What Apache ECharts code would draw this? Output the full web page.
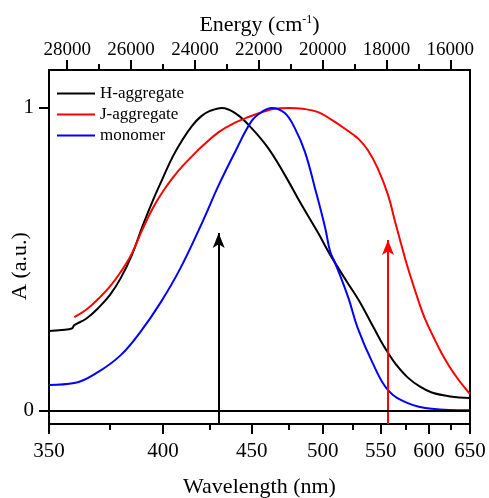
<!DOCTYPE html>
<html>
<head>
<meta charset="utf-8">
<script src="https://cdn.jsdelivr.net/npm/echarts@6/dist/echarts.min.js"></script>
<style>
  html, body { margin: 0; padding: 0; background: #ffffff; }
  #chart { width: 489px; height: 498px; }
</style>
</head>
<body>
<div id="chart"></div>
<script>
// Absorption spectra (normalised), wavelength in nm
const H_WAVELENGTH = [350, 355, 359, 360, 365, 370, 375, 380, 385, 390, 395, 400, 405, 410, 415, 420, 425, 432, 440, 448, 460, 472, 484, 496, 506, 520, 530, 540, 550, 557, 565, 577, 590, 603, 625, 650];
const H_ABS        = [0.264, 0.267, 0.272, 0.283, 0.305, 0.34, 0.382, 0.44, 0.515, 0.61, 0.695, 0.77, 0.84, 0.895, 0.94, 0.972, 0.99, 1.0, 0.982, 0.944, 0.872, 0.779, 0.68, 0.591, 0.515, 0.425, 0.365, 0.298, 0.232, 0.192, 0.153, 0.11, 0.08, 0.061, 0.048, 0.043];

const J_WAVELENGTH = [360, 365, 370, 375, 380, 385, 390, 395, 400, 405, 410, 415, 420, 430, 440, 448, 458, 465, 475, 485, 496, 506, 516, 525, 530, 538, 547, 557, 564, 574, 581, 588, 595, 605, 615, 625, 634, 642, 650];
const J_ABS        = [0.31, 0.335, 0.37, 0.41, 0.46, 0.52, 0.6, 0.67, 0.725, 0.77, 0.808, 0.84, 0.87, 0.92, 0.952, 0.97, 0.988, 0.997, 1.0, 0.997, 0.987, 0.964, 0.937, 0.912, 0.897, 0.861, 0.802, 0.713, 0.624, 0.505, 0.432, 0.366, 0.307, 0.244, 0.188, 0.142, 0.107, 0.08, 0.056];

const M_WAVELENGTH = [350, 360, 370, 380, 389, 399, 409, 420.5, 430, 440, 450, 456.6, 463, 472, 479, 486.5, 494, 502, 506, 510, 521, 529, 542, 557, 577, 603, 650];
const M_ABS        = [0.086, 0.092, 0.129, 0.185, 0.261, 0.36, 0.472, 0.62, 0.745, 0.858, 0.957, 0.987, 1.0, 0.983, 0.934, 0.855, 0.736, 0.604, 0.525, 0.488, 0.373, 0.274, 0.162, 0.069, 0.026, 0.007, 0.002];

// Excitation wavelengths marked with arrows, and arrow tip heights
const ARROW_WAVELENGTH = [430, 557];
const ARROW_TIP = [0.587, 0.564];

// Axis ticks
const WAVELENGTH_TICKS = [350, 400, 450, 500, 550, 600, 650];
const WAVELENGTH_MINOR = [375, 425, 475, 525, 575, 625];
const ENERGY_TICKS = [28000, 26000, 24000, 22000, 20000, 18000, 16000];
const ENERGY_MINOR = [27000, 25000, 23000, 21000, 19000, 17000];
const A_TICKS = [0, 1];

const FONT = 'Liberation Serif';
const toEnergy = nm => 1e7 / nm;           // nm -> cm^-1
const pairs = (wl, a) => wl.map((w, i) => [toEnergy(w), a[i]]);

const E_MIN = toEnergy(650), E_MAX = toEnergy(350);
const A_MIN = -0.043, A_MAX = 1.125;

function energyAxis(extra) {
  return Object.assign({
    type: 'value', min: E_MIN, max: E_MAX, inverse: true,
    splitLine: { show: false }
  }, extra);
}

const chart = echarts.init(document.getElementById('chart'), null, { renderer: 'canvas' });

const arrowLine = (i) => [
  { coord: [toEnergy(ARROW_WAVELENGTH[i]), A_MIN] },
  { coord: [toEnergy(ARROW_WAVELENGTH[i]), ARROW_TIP[i]] }
];

const arrowMarkLine = (color, data) => ({
  silent: true, animation: false, label: { show: false },
  symbol: ['none', 'arrow'], symbolSize: [9, 15],
  lineStyle: { color: color, width: 2, type: 'solid' },
  itemStyle: { color: color },
  data: data
});

chart.setOption({
  animation: false,
  backgroundColor: '#ffffff',
  grid: { left: 49, right: 19, top: 70, bottom: 74, outerBoundsMode: 'none', containLabel: false },
  legend: {
    orient: 'vertical', left: 57, top: 85, padding: 0,
    icon: 'path://M0 0H38V2H0Z',
    itemWidth: 38, itemHeight: 14, itemGap: 4,
    textStyle: { fontFamily: FONT, fontSize: 17, color: '#000' },
    data: ['H-aggregate', 'J-aggregate', 'monomer']
  },
  xAxis: [
    energyAxis({
      position: 'bottom',
      name: 'Wavelength (nm)', nameLocation: 'middle', nameGap: 52,
      nameTextStyle: { fontFamily: FONT, fontSize: 22, color: '#000' },
      axisLine: { show: true, onZero: false, lineStyle: { color: '#000', width: 2 } },
      axisTick: { show: true, inside: false, length: 10, lineStyle: { color: '#000', width: 2 },
                  customValues: WAVELENGTH_TICKS.map(toEnergy) },
      axisLabel: { show: true, margin: 17, fontFamily: FONT, fontSize: 21, color: '#000',
                   customValues: WAVELENGTH_TICKS.map(toEnergy),
                   formatter: v => String(Math.round(1e7 / v)) }
    }),
    energyAxis({
      position: 'bottom',
      axisLine: { show: false, onZero: false },
      axisTick: { show: true, inside: false, length: 6, lineStyle: { color: '#000', width: 2 },
                  customValues: WAVELENGTH_MINOR.map(toEnergy) },
      axisLabel: { show: false }
    }),
    energyAxis({
      position: 'top',
      name: 'Energy (cm{sup|-1})', nameLocation: 'middle', nameGap: 33,
      nameTextStyle: { fontFamily: FONT, fontSize: 22, color: '#000',
        rich: { sup: { fontFamily: FONT, fontSize: 12, color: '#000', verticalAlign: 'top', padding: [0, 0, 8, 0] } } },
      axisLine: { show: true, onZero: false, lineStyle: { color: '#000', width: 2 } },
      axisTick: { show: true, inside: false, length: 10, lineStyle: { color: '#000', width: 2 },
                  customValues: ENERGY_TICKS },
      axisLabel: { show: true, margin: 10, fontFamily: FONT, fontSize: 19, color: '#000',
                   customValues: ENERGY_TICKS, formatter: v => String(Math.round(v)) }
    }),
    energyAxis({
      position: 'top',
      axisLine: { show: false, onZero: false },
      axisTick: { show: true, inside: false, length: 6, lineStyle: { color: '#000', width: 2 },
                  customValues: ENERGY_MINOR },
      axisLabel: { show: false }
    })
  ],
  yAxis: [
    {
      type: 'value', position: 'left', min: A_MIN, max: A_MAX,
      splitLine: { show: false },
      axisLine: { show: true, onZero: false, lineStyle: { color: '#000', width: 2 } },
      axisTick: { show: true, inside: false, length: 10, lineStyle: { color: '#000', width: 2 },
                  customValues: A_TICKS },
      axisLabel: { show: true, margin: 15, fontFamily: FONT, fontSize: 21, color: '#000',
                   customValues: A_TICKS }
    },
    {
      type: 'value', position: 'right', min: A_MIN, max: A_MAX,
      splitLine: { show: false },
      axisLine: { show: true, onZero: false, lineStyle: { color: '#000', width: 2 } },
      axisTick: { show: false },
      axisLabel: { show: false }
    }
  ],
  graphic: [{
    type: 'text', x: 20, y: 266, rotation: Math.PI / 2,
    style: { text: 'A (a.u.)', font: '22px "Liberation Serif"', fill: '#000',
             align: 'center', verticalAlign: 'middle' }
  }],
  series: [
    {
      name: 'H-aggregate', type: 'line', xAxisIndex: 0, yAxisIndex: 0,
      data: pairs(H_WAVELENGTH, H_ABS), smooth: 0.4, symbol: 'none',
      lineStyle: { color: '#000000', width: 2 }, itemStyle: { color: '#000000' },
      silent: true, z: 3,
      markLine: arrowMarkLine('#000000', [arrowLine(0)])
    },
    {
      name: 'J-aggregate', type: 'line', xAxisIndex: 0, yAxisIndex: 0,
      data: pairs(J_WAVELENGTH, J_ABS), smooth: 0.4, symbol: 'none',
      lineStyle: { color: '#ff0000', width: 2 }, itemStyle: { color: '#ff0000' },
      silent: true, z: 3,
      markLine: arrowMarkLine('#ff0000', [arrowLine(1)])
    },
    {
      name: 'monomer', type: 'line', xAxisIndex: 0, yAxisIndex: 0,
      data: pairs(M_WAVELENGTH, M_ABS), smooth: 0.4, symbol: 'none',
      lineStyle: { color: '#0000ff', width: 2 }, itemStyle: { color: '#0000ff' },
      silent: true, z: 3,
      // zero baseline across the plot
      markLine: {
        silent: true, animation: false, label: { show: false },
        symbol: ['none', 'none'],
        lineStyle: { color: '#000000', width: 2, type: 'solid' },
        data: [{ yAxis: 0 }]
      }
    }
  ]
});
</script>
</body>
</html>
